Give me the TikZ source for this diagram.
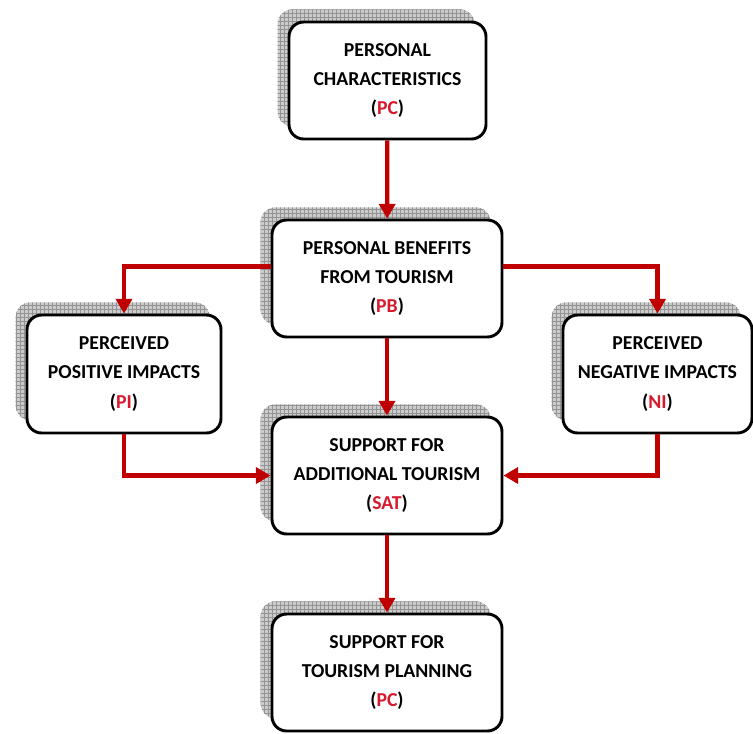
\documentclass[tikz,border=0pt]{standalone}
\usepackage{fontspec}
\setmainfont{Carlito}
\usetikzlibrary{arrows.meta, positioning, shadows, patterns}
\definecolor{linkred}{RGB}{192,0,0}
\definecolor{abbrred}{RGB}{215,25,45}
\newcommand\abbr[1]{(\textcolor{abbrred}{#1})}
\tikzset{
  factor/.style={draw, line width=2.2pt, rounded corners=11pt, fill=white, align=center, inner sep=0pt,
    font=\fontsize{14.8}{22}\selectfont\bfseries,
    general shadow={shadow xshift=-8.5pt, shadow yshift=9.5pt, fill=gray!40},
    general shadow={shadow xshift=-8.5pt, shadow yshift=9.5pt, pattern=grid, pattern color=gray!85}},
  link/.style={draw=linkred, line width=3.2pt, -{Triangle[length=11pt,width=12pt]}}
}

\begin{document}
\begin{tikzpicture}[x=0.75pt, y=-0.75pt]
\useasboundingbox (0,0) rectangle (753,733);

\node (pc) [factor, minimum width=147.75pt, minimum height=87.75pt] at (387.5,80.5) {PERSONAL\\CHARACTERISTICS\\\abbr{PC}};
\node (pb) [factor, minimum width=172.5pt, minimum height=87.75pt] at (387,278.5) {PERSONAL BENEFITS\\FROM TOURISM\\\abbr{PB}};
\node (pi) [factor, minimum width=145.5pt, minimum height=88.5pt] at (124,374) {PERCEIVED\\POSITIVE IMPACTS\\\abbr{PI}};
\node (ni) [factor, minimum width=141.75pt, minimum height=88.5pt] at (657.5,374) {PERCEIVED\\NEGATIVE IMPACTS\\\abbr{NI}};
\node (sat) [factor, minimum width=172.5pt, minimum height=87.75pt] at (387,475.5) {SUPPORT FOR\\ADDITIONAL TOURISM\\\abbr{SAT}};
\node (tp) [factor, minimum width=172.5pt, minimum height=87.75pt] at (387,672.5) {SUPPORT FOR\\TOURISM PLANNING\\\abbr{PC}};

\draw [link] (pc) -- (pb);
\draw [link] ([yshift=9pt]pb.west) -| (pi.north);
\draw [link] ([yshift=9pt]pb.east) -| (ni.north);
\draw [link] (pb) -- (sat);
\draw [link] (pi.south) |- (sat.west);
\draw [link] (ni.south) |- (sat.east);
\draw [link] (sat) -- (tp);
\end{tikzpicture}
\end{document}
